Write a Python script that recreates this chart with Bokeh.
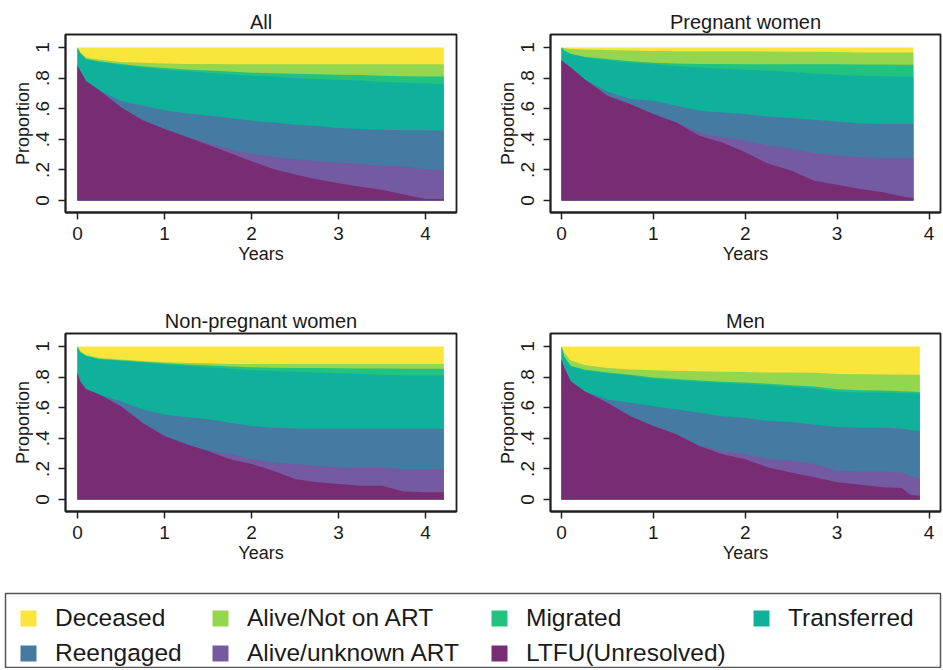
from bokeh.plotting import figure
from bokeh.layouts import column, row
from bokeh.models import FixedTicker, Legend, LegendItem, Range1d
from bokeh.embed import file_html
from bokeh.resources import INLINE

# ---------------- data ----------------
series_names = ["Deceased", "Alive/Not on ART", "Migrated", "Transferred",
                "Reengaged", "Alive/unknown ART", "LTFU(Unresolved)"]
series_colors = ["#f9e53b", "#95d64f", "#22c380", "#0fb19b",
                 "#457aa3", "#745aa0", "#772c74"]

panel_titles = ["All", "Pregnant women", "Non-pregnant women", "Men"]

# Upper boundary of each stacked state (cumulative proportion), per panel
all_years = [0, 0.03, 0.1, 0.25, 0.5, 0.75, 1, 1.25, 1.5, 1.75, 2, 2.25, 2.5, 2.75, 3, 3.25, 3.5, 3.75, 4, 4.21]
all_ltfu = [0.88, 0.85, 0.78, 0.72, 0.61, 0.525, 0.467, 0.417, 0.365, 0.31, 0.257, 0.207, 0.17, 0.14, 0.113, 0.09, 0.07, 0.04, 0.01, 0.01]
all_unknown = [0.88, 0.85, 0.78, 0.72, 0.61, 0.525, 0.467, 0.417, 0.375, 0.335, 0.305, 0.285, 0.27, 0.258, 0.248, 0.238, 0.228, 0.222, 0.205, 0.2]
all_reengaged = [0.88, 0.85, 0.78, 0.72, 0.652, 0.62, 0.59, 0.57, 0.555, 0.54, 0.522, 0.51, 0.496, 0.487, 0.474, 0.467, 0.463, 0.46, 0.459, 0.458]
all_transferred = [1.0, 0.96, 0.92, 0.905, 0.885, 0.87, 0.855, 0.845, 0.835, 0.825, 0.815, 0.81, 0.8, 0.795, 0.79, 0.785, 0.775, 0.77, 0.765, 0.76]
all_migrated = [1.0, 0.965, 0.925, 0.91, 0.892, 0.878, 0.866, 0.857, 0.85, 0.843, 0.835, 0.832, 0.828, 0.825, 0.822, 0.82, 0.815, 0.812, 0.81, 0.81]
all_notart = [1.0, 0.97, 0.935, 0.92, 0.905, 0.9, 0.895, 0.893, 0.892, 0.891, 0.89, 0.89, 0.89, 0.89, 0.89, 0.89, 0.89, 0.89, 0.89, 0.89]

preg_years = [0, 0.03, 0.1, 0.25, 0.5, 0.75, 1, 1.25, 1.5, 1.75, 2, 2.25, 2.5, 2.75, 3, 3.25, 3.5, 3.75, 3.83]
preg_ltfu = [0.917, 0.9, 0.87, 0.793, 0.685, 0.63, 0.565, 0.51, 0.424, 0.38, 0.315, 0.24, 0.196, 0.13, 0.104, 0.076, 0.054, 0.022, 0.017]
preg_unknown = [0.917, 0.9, 0.87, 0.793, 0.685, 0.63, 0.565, 0.51, 0.445, 0.413, 0.39, 0.36, 0.337, 0.31, 0.293, 0.283, 0.276, 0.276, 0.276]
preg_reengaged = [0.917, 0.9, 0.87, 0.793, 0.713, 0.663, 0.652, 0.62, 0.587, 0.576, 0.565, 0.548, 0.54, 0.528, 0.517, 0.504, 0.5, 0.5, 0.5]
preg_transferred = [1.0, 0.978, 0.957, 0.935, 0.917, 0.9, 0.89, 0.88, 0.87, 0.862, 0.855, 0.848, 0.84, 0.83, 0.822, 0.815, 0.813, 0.81, 0.81]
preg_migrated = [1.0, 0.98, 0.96, 0.94, 0.925, 0.91, 0.9, 0.895, 0.893, 0.892, 0.89, 0.89, 0.89, 0.89, 0.89, 0.889, 0.889, 0.888, 0.888]
preg_notart = [1.0, 0.995, 0.99, 0.987, 0.983, 0.98, 0.977, 0.975, 0.975, 0.975, 0.975, 0.974, 0.973, 0.972, 0.97, 0.968, 0.967, 0.967, 0.967]

nonp_years = [0, 0.03, 0.1, 0.25, 0.5, 0.75, 1, 1.25, 1.5, 1.75, 2, 2.25, 2.5, 2.75, 3, 3.25, 3.5, 3.75, 4, 4.21]
nonp_ltfu = [0.827, 0.773, 0.72, 0.686, 0.61, 0.5, 0.416, 0.361, 0.318, 0.264, 0.232, 0.188, 0.134, 0.113, 0.102, 0.091, 0.091, 0.052, 0.048, 0.048]
nonp_unknown = [0.827, 0.773, 0.72, 0.686, 0.61, 0.5, 0.416, 0.361, 0.318, 0.297, 0.264, 0.242, 0.232, 0.221, 0.21, 0.206, 0.206, 0.2, 0.2, 0.2]
nonp_reengaged = [0.827, 0.773, 0.72, 0.686, 0.643, 0.589, 0.556, 0.539, 0.524, 0.502, 0.48, 0.47, 0.465, 0.463, 0.463, 0.463, 0.463, 0.463, 0.463, 0.463]
nonp_transferred = [1.0, 0.96, 0.935, 0.915, 0.905, 0.895, 0.882, 0.872, 0.865, 0.855, 0.845, 0.84, 0.835, 0.83, 0.825, 0.82, 0.815, 0.81, 0.81, 0.81]
nonp_migrated = [1.0, 0.965, 0.94, 0.92, 0.91, 0.9, 0.89, 0.882, 0.877, 0.87, 0.865, 0.862, 0.86, 0.86, 0.858, 0.857, 0.856, 0.855, 0.855, 0.855]
nonp_notart = [1.0, 0.97, 0.945, 0.925, 0.915, 0.905, 0.897, 0.893, 0.89, 0.886, 0.885, 0.885, 0.885, 0.885, 0.885, 0.885, 0.885, 0.885, 0.885, 0.885]

men_years = [0, 0.03, 0.1, 0.25, 0.5, 0.75, 1, 1.25, 1.5, 1.75, 2, 2.25, 2.5, 2.75, 3, 3.25, 3.5, 3.7, 3.8, 3.9]
men_ltfu = [0.913, 0.86, 0.773, 0.708, 0.632, 0.545, 0.48, 0.426, 0.35, 0.296, 0.264, 0.21, 0.177, 0.145, 0.113, 0.097, 0.08, 0.075, 0.03, 0.025]
men_unknown = [0.913, 0.86, 0.773, 0.708, 0.632, 0.545, 0.48, 0.426, 0.35, 0.318, 0.296, 0.264, 0.253, 0.232, 0.188, 0.184, 0.184, 0.177, 0.15, 0.14]
men_reengaged = [0.913, 0.86, 0.773, 0.708, 0.654, 0.632, 0.61, 0.59, 0.567, 0.545, 0.535, 0.513, 0.506, 0.491, 0.474, 0.47, 0.47, 0.462, 0.455, 0.448]
men_transferred = [1.0, 0.93, 0.87, 0.845, 0.825, 0.81, 0.79, 0.78, 0.77, 0.76, 0.755, 0.745, 0.735, 0.725, 0.705, 0.7, 0.7, 0.695, 0.695, 0.69]
men_migrated = [1.0, 0.935, 0.875, 0.85, 0.83, 0.815, 0.797, 0.787, 0.778, 0.77, 0.765, 0.756, 0.747, 0.738, 0.72, 0.715, 0.712, 0.708, 0.706, 0.703]
men_notart = [1.0, 0.96, 0.91, 0.88, 0.86, 0.85, 0.845, 0.84, 0.838, 0.835, 0.833, 0.83, 0.83, 0.828, 0.82, 0.818, 0.817, 0.815, 0.815, 0.815]

x_ticks = [0, 1, 2, 3, 4]
y_ticks = [0, 0.2, 0.4, 0.6, 0.8, 1]
y_tick_labels = ["0", ".2", ".4", ".6", ".8", "1"]

# ---------------- styling ----------------
FONT = "Liberation Sans"
TXT = "#1a1a1a"
FRAME = "#202020"


def make_panel(title, years, tops, x_range, width, height, bl, br, bt, bb):
    p = figure(width=width, height=height, output_backend="svg", toolbar_location=None,
               x_range=Range1d(*x_range), y_range=Range1d(-0.078, 1.085),
               min_border_left=bl, min_border_right=br, min_border_top=bt, min_border_bottom=bb,
               background_fill_color="white", border_fill_color="white")
    # painter's order: Deceased (whole column) first, LTFU last
    total = [1.0] * len(years)
    layers = [total] + tops
    for top, color in zip(layers, series_colors):
        p.varea(x=years, y1=0, y2=top, fill_color=color, fill_alpha=1.0)

    p.title.text = title
    p.title.align = "center"
    p.title.text_font = FONT
    p.title.text_font_size = "20px"
    p.title.text_font_style = "normal"
    p.title.text_color = TXT
    p.title.standoff = 3

    p.outline_line_color = FRAME
    p.outline_line_width = 1.8
    p.xgrid.visible = False
    p.ygrid.visible = False

    p.xaxis.ticker = FixedTicker(ticks=x_ticks)
    p.yaxis.ticker = FixedTicker(ticks=y_ticks)
    p.yaxis.major_label_overrides = dict(zip(y_ticks, y_tick_labels))
    p.yaxis.major_label_orientation = "vertical"
    p.xaxis.axis_label = "Years"
    p.yaxis.axis_label = "Proportion"
    for ax in (p.xaxis, p.yaxis):
        ax.axis_line_color = FRAME
        ax.axis_line_width = 1.8
        ax.major_tick_in = 0
        ax.major_tick_out = 7
        ax.major_tick_line_color = FRAME
        ax.major_tick_line_width = 1.5
        ax.minor_tick_out = 0
        ax.minor_tick_in = 0
        ax.major_label_text_font = FONT
        ax.major_label_text_font_size = "19px"
        ax.major_label_text_color = TXT
        ax.axis_label_text_font = FONT
        ax.axis_label_text_font_size = "18px"
        ax.axis_label_text_font_style = "normal"
        ax.axis_label_text_color = TXT
    p.xaxis.major_label_standoff = 7
    p.xaxis.axis_label_standoff = 1
    p.yaxis.major_label_standoff = 9
    p.yaxis.axis_label_standoff = 1
    return p


p1 = make_panel(panel_titles[0], all_years,
                [all_notart, all_migrated, all_transferred, all_reengaged, all_unknown, all_ltfu],
                (-0.138, 4.356), 478, 290, 65, 22, 34, 78)
p2 = make_panel(panel_titles[1], preg_years,
                [preg_notart, preg_migrated, preg_transferred, preg_reengaged, preg_unknown, preg_ltfu],
                (-0.12, 4.125), 465, 290, 72, 3, 34, 78)
p3 = make_panel(panel_titles[2], nonp_years,
                [nonp_notart, nonp_migrated, nonp_transferred, nonp_reengaged, nonp_unknown, nonp_ltfu],
                (-0.138, 4.356), 478, 295, 65, 22, 43, 74)
p4 = make_panel(panel_titles[3], men_years,
                [men_notart, men_migrated, men_transferred, men_reengaged, men_unknown, men_ltfu],
                (-0.12, 4.125), 465, 295, 72, 3, 43, 74)

# ---------------- legend ----------------
lp = figure(width=943, height=83, output_backend="svg", toolbar_location=None,
            x_range=Range1d(0, 1), y_range=Range1d(0, 1),
            x_axis_location=None, y_axis_location=None,
            min_border_left=5, min_border_right=3, min_border_top=8, min_border_bottom=1)
lp.xgrid.visible = False
lp.ygrid.visible = False
lp.outline_line_color = "#555555"
lp.outline_line_width = 1.5
# swatch renderers kept outside the visible range; only their legend keys show
swatches = [lp.quad(left=[-3], right=[-2], bottom=[-3], top=[-2], fill_color=c, line_color=None)
            for c in series_colors]

legend_columns = [[0, 4], [1, 5], [2, 6], [3]]
legend_x = [13, 205, 484, 746]
legend_y = [0, 0, 0, 35]
for idxs, lx, ly in zip(legend_columns, legend_x, legend_y):
    leg = Legend(items=[LegendItem(label=series_names[i], renderers=[swatches[i]]) for i in idxs],
                 location=(lx, ly), orientation="vertical",
                 glyph_width=20, glyph_height=20, label_standoff=17, spacing=7,
                 padding=0, margin=0, border_line_color=None, background_fill_alpha=0,
                 label_text_font=FONT, label_text_font_size="24.5px", label_text_color=TXT)
    lp.add_layout(leg, "center")

layout = column(row(p1, p2), row(p3, p4), lp)

with open("out.html", "w") as f:
    f.write(file_html(layout, INLINE))
